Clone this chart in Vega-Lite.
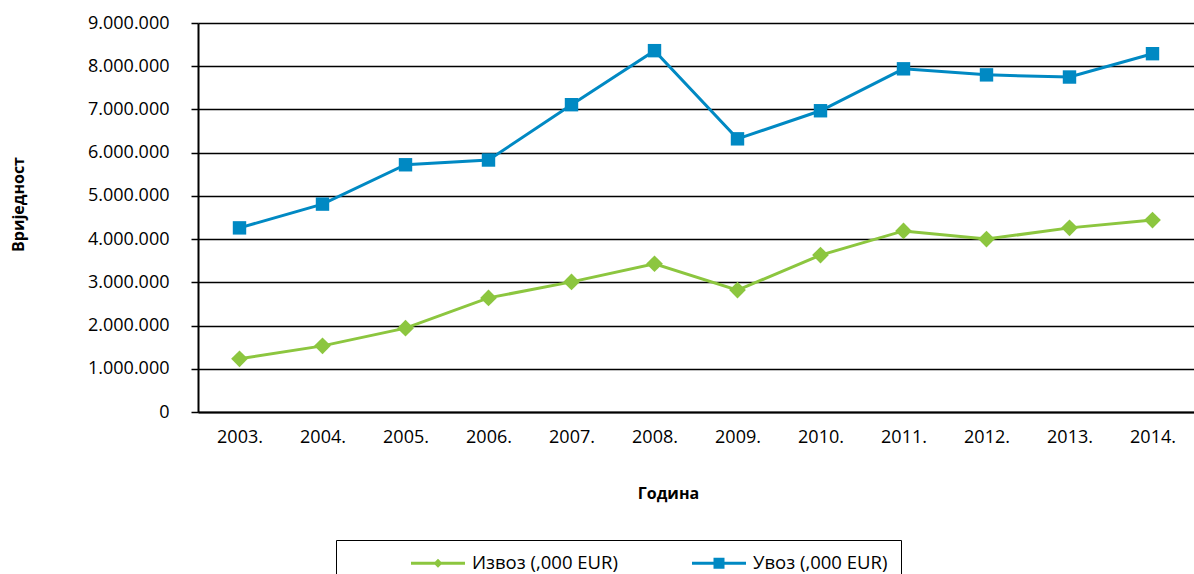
{
  "$schema": "https://vega.github.io/schema/vega-lite/v6.json",
  "width": 996,
  "height": 389,
  "autosize": {"type": "none"},
  "padding": {"left": 198, "top": 23, "right": 0, "bottom": 162},
  "background": "white",
  "config": {
    "view": {"stroke": null},
    "font": "Open Sans",
    "locale": {"number": {"decimal": ",", "thousands": ".", "grouping": [3], "currency": ["", " €"]}}
  },
  "data": {
    "values": [
      {"year": "2003.", "series": "Извоз (,000 EUR)", "value": 1230000},
      {"year": "2004.", "series": "Извоз (,000 EUR)", "value": 1530000},
      {"year": "2005.", "series": "Извоз (,000 EUR)", "value": 1940000},
      {"year": "2006.", "series": "Извоз (,000 EUR)", "value": 2640000},
      {"year": "2007.", "series": "Извоз (,000 EUR)", "value": 3010000},
      {"year": "2008.", "series": "Извоз (,000 EUR)", "value": 3430000},
      {"year": "2009.", "series": "Извоз (,000 EUR)", "value": 2820000},
      {"year": "2010.", "series": "Извоз (,000 EUR)", "value": 3630000},
      {"year": "2011.", "series": "Извоз (,000 EUR)", "value": 4190000},
      {"year": "2012.", "series": "Извоз (,000 EUR)", "value": 4000000},
      {"year": "2013.", "series": "Извоз (,000 EUR)", "value": 4260000},
      {"year": "2014.", "series": "Извоз (,000 EUR)", "value": 4440000},
      {"year": "2003.", "series": "Увоз (,000 EUR)", "value": 4260000},
      {"year": "2004.", "series": "Увоз (,000 EUR)", "value": 4810000},
      {"year": "2005.", "series": "Увоз (,000 EUR)", "value": 5720000},
      {"year": "2006.", "series": "Увоз (,000 EUR)", "value": 5830000},
      {"year": "2007.", "series": "Увоз (,000 EUR)", "value": 7110000},
      {"year": "2008.", "series": "Увоз (,000 EUR)", "value": 8360000},
      {"year": "2009.", "series": "Увоз (,000 EUR)", "value": 6320000},
      {"year": "2010.", "series": "Увоз (,000 EUR)", "value": 6970000},
      {"year": "2011.", "series": "Увоз (,000 EUR)", "value": 7940000},
      {"year": "2012.", "series": "Увоз (,000 EUR)", "value": 7800000},
      {"year": "2013.", "series": "Увоз (,000 EUR)", "value": 7750000},
      {"year": "2014.", "series": "Увоз (,000 EUR)", "value": 8290000}
    ]
  },
  "encoding": {
    "x": {
      "field": "year",
      "type": "nominal",
      "scale": {"type": "point", "padding": 0.5},
      "axis": {
        "title": "Година",
        "titleFont": "Open Sans",
        "titleFontWeight": "bold",
        "titleFontSize": 16,
        "titleColor": "black",
        "titleX": 470,
        "titleY": 81,
        "titleAnchor": null,
        "titleAlign": "center",
        "titleBaseline": "middle",
        "labelAngle": 0,
        "labelFont": "Open Sans",
        "labelFontSize": 18,
        "labelColor": "black",
        "labelPadding": 16,
        "ticks": false,
        "grid": false,
        "domainColor": "black",
        "domainWidth": 2
      }
    },
    "y": {
      "field": "value",
      "type": "quantitative",
      "scale": {"domain": [0, 9000000], "nice": false},
      "axis": {
        "title": "Вриједност",
        "titleFont": "Open Sans",
        "titleFontWeight": "bold",
        "titleFontSize": 16,
        "titleColor": "black",
        "titleX": -180,
        "titleY": 181,
        "titleAngle": -90,
        "titleAlign": "center",
        "titleBaseline": "middle",
        "values": [0, 1000000, 2000000, 3000000, 4000000, 5000000, 6000000, 7000000, 8000000, 9000000],
        "format": ",d",
        "labelFont": "Open Sans",
        "labelFontSize": 18,
        "labelColor": "black",
        "labelPadding": 22,
        "tickSize": 7,
        "tickColor": "black",
        "tickWidth": 1.5,
        "grid": true,
        "gridColor": "black",
        "gridWidth": 1.5,
        "domainColor": "black",
        "domainWidth": 2
      }
    }
  },
  "layer": [
    {
      "mark": {"type": "point", "filled": true, "opacity": 1, "size": 0},
      "encoding": {
        "color": {
          "field": "series",
          "type": "nominal",
          "scale": {"domain": ["Извоз (,000 EUR)", "Увоз (,000 EUR)"], "range": ["#8CC63F", "#0089C3"]},
          "legend": {
            "orient": "none",
            "legendX": 138,
            "legendY": 517,
            "direction": "horizontal",
            "title": " ",
            "titleOrient": "left",
            "titlePadding": 62,
            "titleFontSize": 10,
            "padding": 13,
            "strokeColor": "black",
            "fillColor": "white",
            "symbolSize": 400,
            "symbolStrokeWidth": 0,
            "symbolOpacity": 1,
            "labelFont": "Open Sans",
            "labelFontSize": 18.5,
            "labelColor": "black",
            "labelOffset": 41,
            "columnPadding": 74,
            "labelLimit": 400
          }
        },
        "shape": {
          "field": "series",
          "type": "nominal",
          "scale": {
            "domain": ["Извоз (,000 EUR)", "Увоз (,000 EUR)"],
            "range": [
              "M-1,-0.15H4.4V0.15H-1Z M1.7,-0.45L2.15,0L1.7,0.45L1.25,0Z",
              "M-1,-0.15H4.4V0.15H-1Z M1.15,-0.55H2.25V0.55H1.15Z"
            ]
          },
          "legend": {
            "orient": "none",
            "legendX": 138,
            "legendY": 517,
            "direction": "horizontal",
            "title": " "
          }
        }
      }
    },
    {
      "mark": {"type": "line", "strokeWidth": 3},
      "encoding": {"color": {"field": "series", "type": "nominal", "legend": null}}
    },
    {
      "transform": [{"filter": "datum.series == 'Извоз (,000 EUR)'"}],
      "mark": {"type": "point", "filled": true, "opacity": 1, "shape": "diamond", "size": 280},
      "encoding": {"color": {"field": "series", "type": "nominal", "legend": null}}
    },
    {
      "transform": [{"filter": "datum.series == 'Увоз (,000 EUR)'"}],
      "mark": {"type": "point", "filled": true, "opacity": 1, "shape": "square", "size": 180},
      "encoding": {"color": {"field": "series", "type": "nominal", "legend": null}}
    }
  ]
}
